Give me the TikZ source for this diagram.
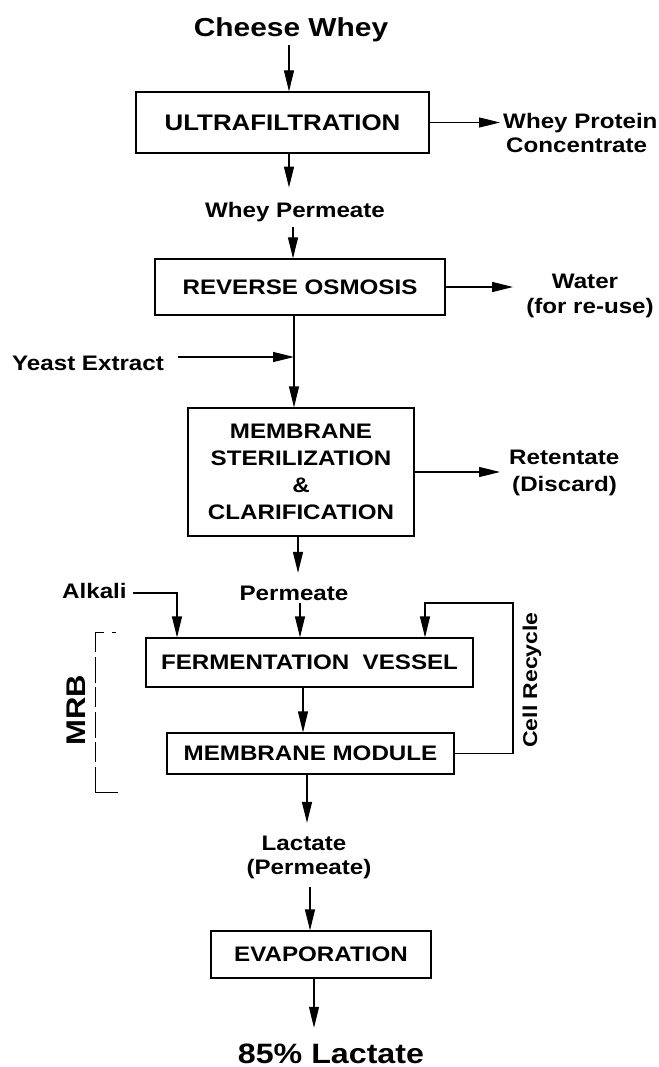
\documentclass[tikz,border=0pt]{standalone}
\usepackage{fontspec}
\setmainfont{Liberation Sans}[FakeStretch=1.15]
\usetikzlibrary{arrows.meta}
\begin{document}
\begin{tikzpicture}[x=1pt,y=-1pt,
  txt/.style={inner sep=0pt,font=\bfseries\fontsize{21}{27}\selectfont},
  box/.style={draw,line width=1.2pt,inner sep=0pt,align=center,font=\bfseries\fontsize{21}{27}\selectfont},
  arr/.style={line width=1.2pt,-{Triangle[length=21pt,width=10pt]}},
  ln/.style={line width=1.2pt},
  big/.style={inner sep=0pt,font=\bfseries\fontsize{26}{30}\selectfont}]
\useasboundingbox (0,0) rectangle (658,1067);
% x positions of the main vertical flow
\coordinate (a1) at (289,0);
\coordinate (a2) at (293,0);
\coordinate (a3) at (294,0);
\coordinate (a4) at (298,0);
\coordinate (a5) at (300,0);
\coordinate (a6) at (303,0);
\coordinate (a7) at (307,0);
\coordinate (a8) at (310,0);
\coordinate (a9) at (314,0);
\coordinate (ak) at (177,0);
\coordinate (crd) at (425,0);
\coordinate (crx) at (513,603);
\coordinate (yeA) at (178,357);
\coordinate (alA) at (133,593);

% nodes
\node[big,anchor=base] (cw) at (291,37) {Cheese Whey};
\node[box,minimum width=293pt,minimum height=61pt,font=\bfseries\fontsize{22.5}{27}\selectfont] (uf) at (282.5,122.5) {ULTRAFILTRATION};
\node[txt,anchor=base west] (wp1) at (503,129) {Whey Protein};
\node[txt,anchor=base west] (wp2) at (506,153) {Concentrate};
\node[txt,anchor=base] (wpm) at (295,218) {Whey Permeate};
\node[box,minimum width=290pt,minimum height=56pt] (ro) at (300,287) {REVERSE OSMOSIS};
\node[txt,anchor=base] (wa1) at (585,288) {Water};
\node[txt,anchor=base] (wa2) at (590,313) {(for re-use)};
\node[txt,anchor=base west] (ye) at (12,370) {Yeast Extract};
\node[box,minimum width=226pt,minimum height=128pt] (ms) at (301,472) {MEMBRANE\\STERILIZATION\\\&\\CLARIFICATION};
\node[txt,anchor=base west] (re1) at (509,464) {Retentate};
\node[txt,anchor=base west] (re2) at (512,491) {(Discard)};
\node[txt,anchor=base west] (al) at (62,598) {Alkali};
\node[txt,anchor=base] (pm) at (294,600) {Permeate};
\node[box,minimum width=327pt,minimum height=49pt] (fv) at (309.5,662.5) {FERMENTATION\ \ VESSEL};
\node[box,minimum width=287pt,minimum height=41pt] (mm) at (310.5,753.5) {MEMBRANE MODULE};
\node[txt,anchor=center,rotate=90,font=\bfseries\fontsize{20}{24}\selectfont] (cr) at (532,680) {Cell Recycle};
\node[txt,anchor=center,rotate=90,font=\bfseries\fontsize{27}{30}\selectfont] (mrb) at (76,710) {MRB};
\node[txt,anchor=base] (l1) at (304,850) {Lactate};
\node[txt,anchor=base] (l2) at (309,874) {(Permeate)};
\node[box,minimum width=220pt,minimum height=47pt] (ev) at (321,954.5) {EVAPORATION};
\node[inner sep=0pt,font=\bfseries\fontsize{28}{32}\selectfont,anchor=base] (fin) at (331,1063) {85\% Lactate};

% connectors
\draw[arr,shorten <=2.5pt] (cw.south -| a1) -- (uf.north -| a1);
\draw[arr,shorten >=3pt] (uf.east) -- (uf.east -| wp1.west);
\draw[arr,shorten >=15pt] (uf.south -| a1) -- (wpm.north -| a1);
\draw[arr,shorten <=4.5pt] (wpm.south -| a2) -- (ro.north -| a2);
\draw[arr,shorten >=13pt] (ro.east) -- (ro.east -| wa2.west);
\draw[arr] (yeA) -- (yeA -| a3);
\draw[arr] (ro.south -| a3) -- (ms.north -| a3);
\draw[arr,shorten >=9pt] (ms.east) -- (ms.east -| re1.west);
\draw[arr,shorten >=12.5pt] (ms.south -| a4) -- (pm.north -| a4);
\draw[arr,shorten <=2.5pt] (pm.south -| a5) -- (fv.north -| a5);
\draw[arr] (alA) -| (fv.north -| ak);
\draw[arr] (fv.south -| a6) -- (mm.north -| a6);
\draw[arr] (mm.east) -| (crx) -| (fv.north -| crd);
\draw[arr,shorten >=12.5pt] (mm.south -| a7) -- (l1.north -| a7);
\draw[arr,shorten <=8.5pt] (l2.south -| a8) -- (ev.north -| a8);
\draw[arr,shorten >=15.5pt] (ev.south -| a9) -- (fin.north -| a9);

% MRB bracket
\draw[line width=1pt] (104,632) -- (95,632);
\draw[line width=1pt] (112,632) -- (116,632);
\draw[line width=1pt,dash pattern=on 20pt off 5pt on 26pt off 4pt] (95,632) -- (95,792);
\draw[line width=1pt] (95,792) -- (118,792);
\end{tikzpicture}
\end{document}
